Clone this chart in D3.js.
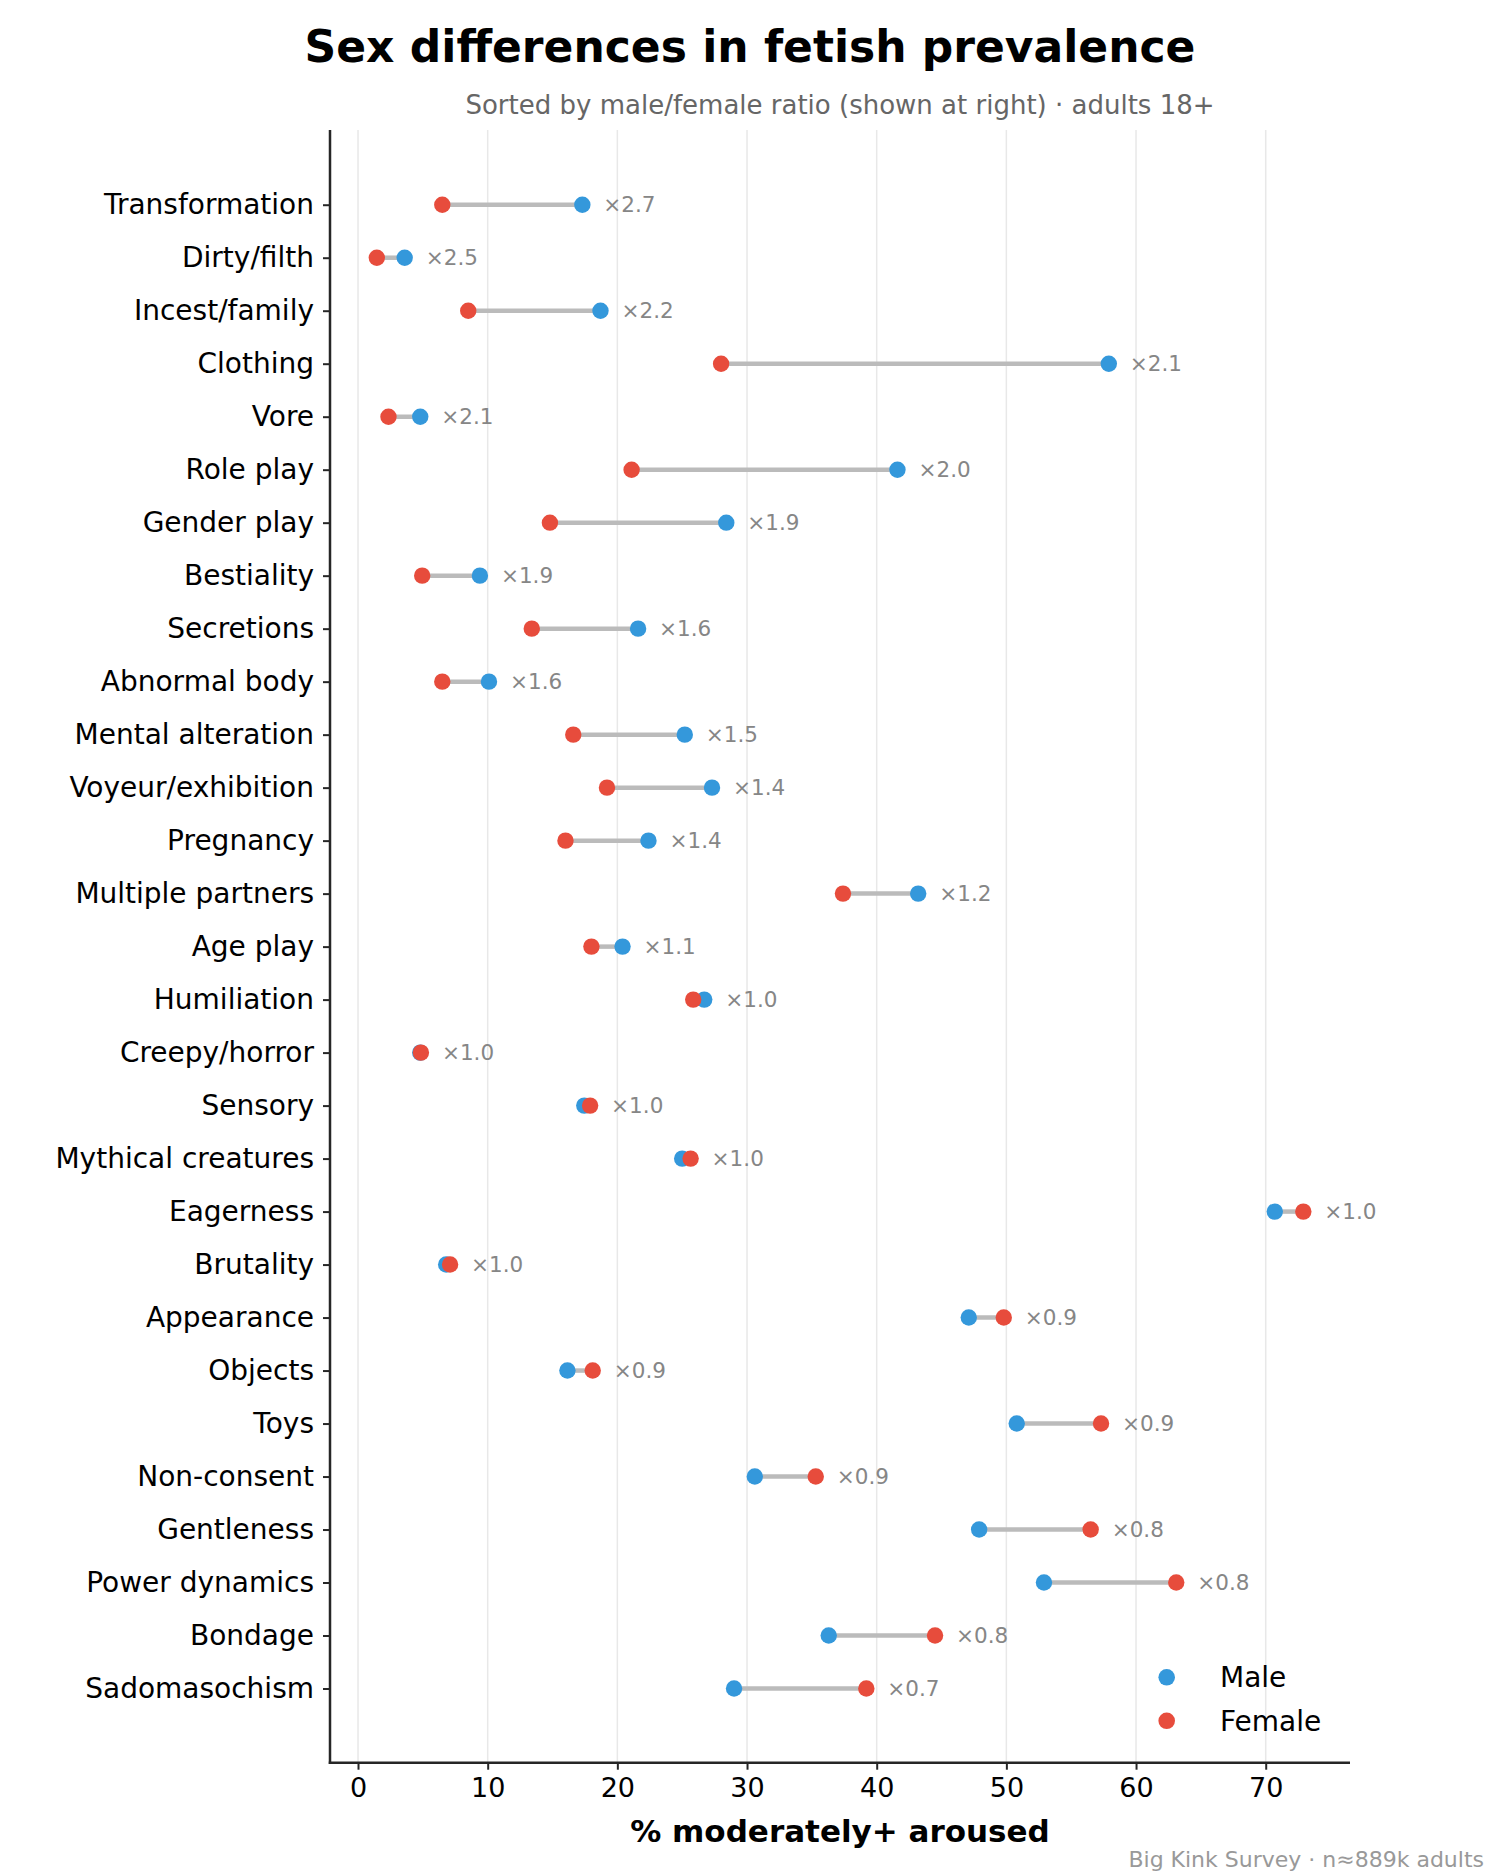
<!DOCTYPE html>
<html><head><meta charset="utf-8">
<script src="https://cdn.jsdelivr.net/npm/d3@7"></script>
<style>body{margin:0;background:#fff}svg{display:block}text{font-family:"DejaVu Sans",sans-serif}</style>
</head><body>
<script>
const categories = ["Transformation","Dirty/filth","Incest/family","Clothing","Vore","Role play","Gender play","Bestiality","Secretions","Abnormal body","Mental alteration","Voyeur/exhibition","Pregnancy","Multiple partners","Age play","Humiliation","Creepy/horror","Sensory","Mythical creatures","Eagerness","Brutality","Appearance","Objects","Toys","Non-consent","Gentleness","Power dynamics","Bondage","Sadomasochism"];
const male   = [17.3,3.6,18.7,57.9,4.8,41.6,28.4,9.4,21.6,10.1,25.2,27.3,22.4,43.2,20.4,26.7,4.8,17.45,25.0,70.7,6.8,47.1,16.15,50.8,30.6,47.9,52.9,36.3,29.0];
const female = [6.5,1.45,8.5,28.0,2.35,21.1,14.8,4.95,13.4,6.5,16.6,19.2,16.0,37.4,18.0,25.85,4.85,17.9,25.65,72.9,7.1,49.8,18.1,57.3,35.3,56.5,63.1,44.5,39.2];
const ratioLabels = ["×2.7","×2.5","×2.2","×2.1","×2.1","×2.0","×1.9","×1.9","×1.6","×1.6","×1.5","×1.4","×1.4","×1.2","×1.1","×1.0","×1.0","×1.0","×1.0","×1.0","×1.0","×0.9","×0.9","×0.9","×0.9","×0.8","×0.8","×0.8","×0.7"];
const xTicks = [0,10,20,30,40,50,60,70];
const seriesNames = ["Male","Female"];
const colors = {Male:"#3498db", Female:"#e74c3c"};

const W=1500,H=1875;
const L=330,R=1350,T=130,B=1762.7;
const svg=d3.select("body").append("svg").attr("width",W).attr("height",H);

const x=d3.scaleLinear().domain([-2.16,76.5]).range([L,R]);
const yi=d3.scaleLinear().domain([-1.41,29.4]).range([T,B]);

// grid
svg.append("g").selectAll("line").data(xTicks).join("line")
  .attr("x1",d=>x(d)).attr("x2",d=>x(d)).attr("y1",T).attr("y2",B)
  .attr("stroke","#e8e8e8").attr("stroke-width",1.5);

// x axis
const gx=svg.append("g").attr("transform",`translate(0,${B})`)
  .call(d3.axisBottom(x).tickValues(xTicks).tickFormat(d3.format("d")).tickSize(7).tickSizeOuter(0).tickPadding(8));
gx.select(".domain").remove();
gx.selectAll(".tick line").attr("stroke","#262626").attr("stroke-width",2);
gx.selectAll(".tick text").attr("font-size",27).attr("fill","#000").attr("font-family","DejaVu Sans");

// y axis
const ys=d3.scalePoint().domain(categories).range([yi(0),yi(categories.length-1)]);
const gy=svg.append("g").attr("transform",`translate(${L},0)`)
  .call(d3.axisLeft(ys).tickSize(7).tickSizeOuter(0).tickPadding(9));
gy.select(".domain").remove();
gy.selectAll(".tick line").attr("stroke","#262626").attr("stroke-width",2);
gy.selectAll(".tick text").attr("font-size",28).attr("fill","#000").attr("font-family","DejaVu Sans");

// spines
svg.append("line").attr("x1",L).attr("x2",L).attr("y1",T).attr("y2",B+1.25).attr("stroke","#262626").attr("stroke-width",2.5);
svg.append("line").attr("x1",L-1.25).attr("x2",R).attr("y1",B).attr("y2",B).attr("stroke","#262626").attr("stroke-width",2.5);

const rows=categories.map((c,i)=>({c,i,m:male[i],f:female[i],r:ratioLabels[i]}));
const g=svg.append("g");
g.selectAll("line.conn").data(rows).join("line").attr("class","conn")
  .attr("x1",d=>x(d.m)).attr("x2",d=>x(d.f)).attr("y1",d=>ys(d.c)).attr("y2",d=>ys(d.c))
  .attr("stroke","#bbbbbb").attr("stroke-width",4.5);
g.selectAll("circle.m").data(rows).join("circle").attr("class","m")
  .attr("cx",d=>x(d.m)).attr("cy",d=>ys(d.c)).attr("r",8.2).attr("fill",colors.Male);
g.selectAll("circle.f").data(rows).join("circle").attr("class","f")
  .attr("cx",d=>x(d.f)).attr("cy",d=>ys(d.c)).attr("r",8.2).attr("fill",colors.Female);
g.selectAll("text.r").data(rows).join("text").attr("class","r")
  .attr("x",d=>x(Math.max(d.m,d.f))+21).attr("y",d=>ys(d.c)).attr("dy","0.35em")
  .attr("font-size",21.5).attr("fill","#868686").text(d=>d.r);

// legend
const lg=svg.append("g");
seriesNames.forEach((s,k)=>{
  const cy=1677.3+k*43.5;
  lg.append("circle").attr("cx",1166.7).attr("cy",cy).attr("r",8.3).attr("fill",colors[s]);
  lg.append("text").attr("x",1220).attr("y",cy).attr("dy","0.36em").attr("font-size",28).attr("fill","#000").text(s);
});

// titles
svg.append("text").attr("x",750).attr("y",62).attr("text-anchor","middle")
  .attr("font-size",44).attr("font-weight","bold").attr("fill","#000").text("Sex differences in fetish prevalence");
svg.append("text").attr("x",(L+R)/2).attr("y",114).attr("text-anchor","middle")
  .attr("font-size",26).attr("fill","#666").text("Sorted by male/female ratio (shown at right) · adults 18+");
svg.append("text").attr("x",(L+R)/2).attr("y",1842).attr("text-anchor","middle")
  .attr("font-size",31).attr("font-weight","bold").attr("fill","#000").text("% moderately+ aroused");
svg.append("text").attr("x",1484).attr("y",1867).attr("text-anchor","end")
  .attr("font-size",22).attr("fill","#999").text("Big Kink Survey · n≈889k adults");
</script>
</body></html>
